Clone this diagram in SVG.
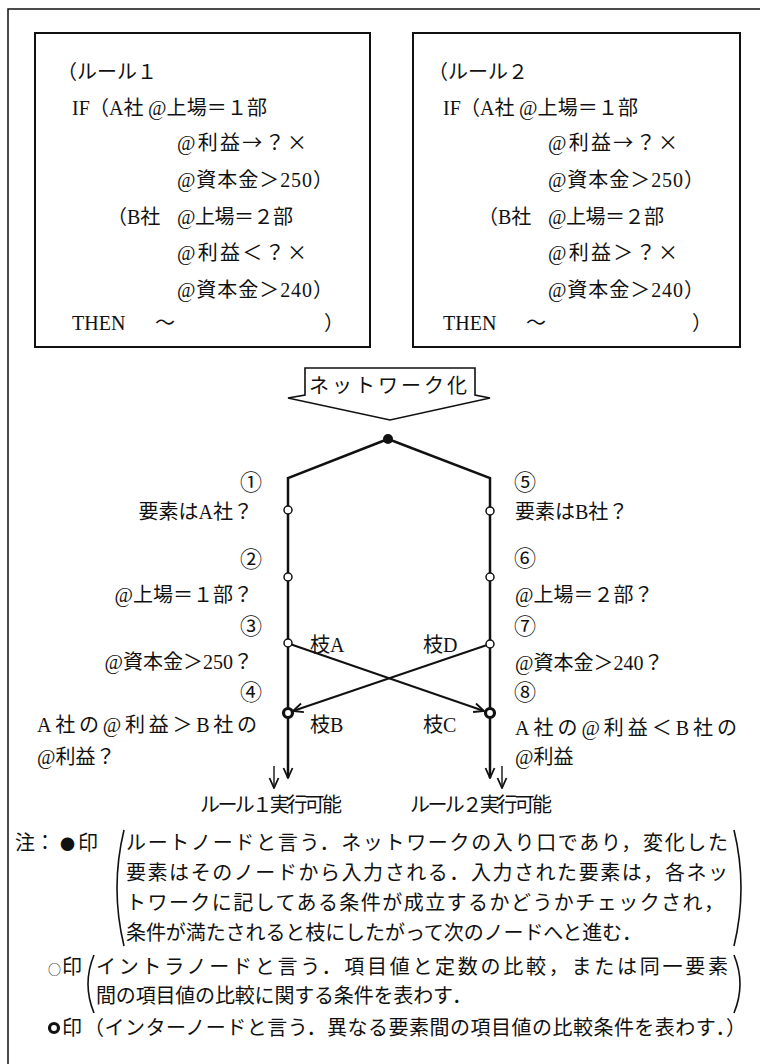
<svg xmlns="http://www.w3.org/2000/svg" width="760" height="1064" viewBox="0 0 760 1064">
<defs>
<style>
text{font-family:'Liberation Serif','Noto Sans CJK JP',serif;font-size:20px;fill:#111}
.cjk{font-family:'Noto Sans CJK JP','Liberation Serif',sans-serif}
.box{fill:#fff;stroke:#111;stroke-width:2}
.ln{fill:none;stroke:#111;stroke-width:2.5}
.cr{fill:none;stroke:#111;stroke-width:2}
.intra{fill:#fff;stroke:#111;stroke-width:1.5}
.inter{fill:#fff;stroke:#111;stroke-width:3.2}
.num{font-size:22px;text-anchor:middle}
.par{fill:none;stroke:#111;stroke-width:1.6}
</style>
<marker id="v" viewBox="0 0 12 12" refX="11" refY="6" markerWidth="12" markerHeight="12" markerUnits="userSpaceOnUse" orient="auto">
<path d="M1,1.5 L11,6 L1,10.5" fill="none" stroke="#111" stroke-width="1.8"/>
</marker>
</defs>
<rect width="760" height="1064" fill="#fff"/>
<path d="M8,1064 V9 H760" fill="none" stroke="#111" stroke-width="1.5"/>

<g id="rule1">
<rect class="box" x="35" y="33" width="335" height="314"/>
<text x="57" y="79">（ルール１</text>
<text x="72" y="115">IF</text>
<text x="89" y="115">（A社</text>
<text x="148" y="115" textLength="119">@上場＝１部</text>
<text x="177" y="150" textLength="130">@利益<tspan class="cjk">→？×</tspan></text>
<text x="177" y="187" textLength="156">@資本金＞250）</text>
<text x="107" y="224">（B社</text>
<text x="177" y="224" textLength="116">@上場＝２部</text>
<text x="177" y="260" textLength="130">@利益<tspan class="cjk">＜？×</tspan></text>
<text x="177" y="297" textLength="156">@資本金＞240）</text>
<text x="72" y="330">THEN</text>
<text x="155" y="330">〜</text>
<text x="324" y="330">）</text>
</g>

<g id="rule2">
<rect class="box" x="413" y="33" width="327" height="314"/>
<g transform="translate(371,0)">
<text x="57" y="79">（ルール２</text>
<text x="72" y="115">IF</text>
<text x="89" y="115">（A社</text>
<text x="148" y="115" textLength="119">@上場＝１部</text>
<text x="177" y="150" textLength="130">@利益<tspan class="cjk">→？×</tspan></text>
<text x="177" y="187" textLength="156">@資本金＞250）</text>
<text x="107" y="224">（B社</text>
<text x="177" y="224" textLength="116">@上場＝２部</text>
<text x="177" y="260" textLength="130">@利益<tspan class="cjk">＞？×</tspan></text>
<text x="177" y="297" textLength="156">@資本金＞240）</text>
<text x="72" y="330">THEN</text>
<text x="155" y="330">〜</text>
<text x="321" y="330">）</text>
</g>
</g>

<g id="networkize">
<path d="M305,368 H475 V395 L490,398 L390,420 L288,398 L305,395 Z" fill="#fff" stroke="#111" stroke-width="1.6" stroke-linejoin="miter"/>
<text x="309" y="393" textLength="158">ネットワーク化</text>
</g>

<g id="connectors">
<path class="ln" d="M388,439 L288,478 V778" marker-end="url(#v)"/>
<path class="ln" d="M388,439 L490,478 V778" marker-end="url(#v)"/>
<path class="cr" d="M287,643 L484,711" marker-end="url(#v)"/>
<path class="cr" d="M490,644 L293,711" marker-end="url(#v)"/>
<path d="M274,766 V788" stroke="#111" stroke-width="1.4" fill="none" marker-end="url(#v)"/>
<path d="M502,766 V788" stroke="#111" stroke-width="1.4" fill="none" marker-end="url(#v)"/>
</g>

<g id="root"><circle cx="388" cy="439" r="5" fill="#111"/></g>
<g id="n1"><circle class="intra" cx="288" cy="510" r="4"/><text class="num" x="251" y="490">①</text><text x="253" y="519" text-anchor="end">要素はA社？</text></g>
<g id="n2"><circle class="intra" cx="288" cy="577" r="4"/><text class="num" x="251" y="567">②</text><text x="253" y="602" text-anchor="end">@上場＝１部？</text></g>
<g id="n3"><circle class="intra" cx="288" cy="643" r="4"/><text class="num" x="251" y="634">③</text><text x="253" y="669" text-anchor="end">@資本金＞250？</text></g>
<g id="n4"><circle class="inter" cx="288" cy="713" r="4.5"/><text class="num" x="251" y="700">④</text><text x="37" y="732" textLength="220">A社の@利益＞B社の</text><text x="37" y="764">@利益？</text></g>
<g id="n5"><circle class="intra" cx="490" cy="511" r="4"/><text class="num" x="525" y="490">⑤</text><text x="515" y="519">要素はB社？</text></g>
<g id="n6"><circle class="intra" cx="490" cy="577" r="4"/><text class="num" x="525" y="566">⑥</text><text x="515" y="602">@上場＝２部？</text></g>
<g id="n7"><circle class="intra" cx="490" cy="644" r="4"/><text class="num" x="525" y="634">⑦</text><text x="515" y="670">@資本金＞240？</text></g>
<g id="n8"><circle class="inter" cx="490" cy="713" r="4.5"/><text class="num" x="525" y="700">⑧</text><text x="515" y="735" textLength="222">A社の@利益＜B社の</text><text x="515" y="764">@利益</text></g>

<g id="branch-labels">
<text x="310" y="652">枝A</text>
<text x="310" y="732">枝B</text>
<text x="423" y="652">枝D</text>
<text x="423" y="732">枝C</text>
</g>

<g id="results">
<text x="200" y="812" textLength="142">ルール１実行可能</text>
<text x="410" y="812" textLength="142">ルール２実行可能</text>
</g>

<g id="notes">
<text class="cjk" y="850"><tspan x="15">注：</tspan><tspan x="60" font-size="15">●</tspan><tspan x="78">印</tspan></text>
<path class="par" d="M124,830 Q110,888 124,946"/>
<path class="par" d="M734,830 Q748,888 734,946"/>
<text x="126" y="850" textLength="602">ルートノードと言う．ネットワークの入り口であり，変化した</text>
<text x="126" y="880" textLength="602">要素はそのノードから入力される．入力された要素は，各ネッ</text>
<text x="126" y="910" textLength="598">トワークに記してある条件が成立するかどうかチェックされ，</text>
<text x="126" y="940" textLength="516">条件が満たされると枝にしたがって次のノードへと進む．</text>
<text class="cjk" y="974"><tspan x="48" font-size="13">○</tspan><tspan x="62">印</tspan></text>
<path class="par" d="M94,955 Q82,984 94,1013"/>
<path class="par" d="M734,955 Q746,984 734,1013"/>
<text x="96" y="974" textLength="632">イントラノードと言う．項目値と定数の比較，または同一要素</text>
<text x="96" y="1003" textLength="376">間の項目値の比較に関する条件を表わす．</text>
<circle cx="54" cy="1028" r="4.5" fill="#fff" stroke="#111" stroke-width="3.2"/>
<text x="62" y="1035">印</text>
<text x="84" y="1035" textLength="662">（インターノードと言う．異なる要素間の項目値の比較条件を表わす．）</text>
</g>
</svg>
